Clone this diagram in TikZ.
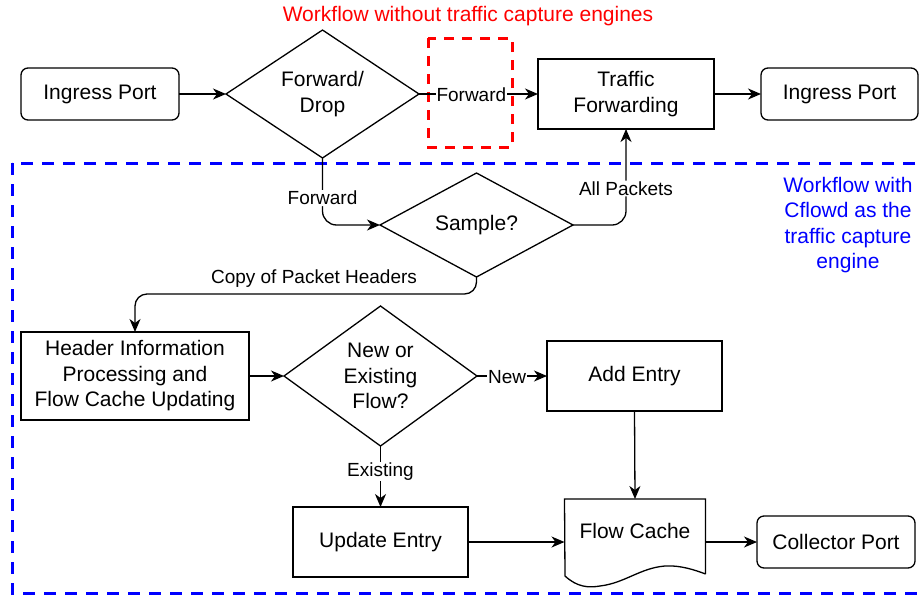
\documentclass[tikz,border=0pt]{standalone}
\usepackage{fontspec}
\setmainfont{Liberation Sans}
\usetikzlibrary{shapes.geometric,arrows.meta}

\begin{document}
\begin{tikzpicture}[x=1pt,y=-1pt,
  every node/.style={font=\fontsize{21}{25.5}\selectfont, align=center, inner sep=0pt, outer sep=0pt},
  box/.style={draw, line width=1.3pt, rectangle},
  portbox/.style={draw, line width=1.3pt, rectangle, rounded corners=7pt},
  decision/.style={draw, line width=1.3pt, diamond, inner sep=0pt},
  arr/.style={line width=1.3pt, -{Stealth[length=13pt,width=11pt,inset=4pt]}},
  edgelabel/.style={font=\fontsize{19}{22}\selectfont, fill=white, inner sep=1pt},
]
\useasboundingbox (0,0) rectangle (920,597);

% group frames
\draw[red, line width=3pt, dash pattern=on 10pt off 8pt] (428,38) rectangle (512,147);
\draw[blue, line width=3pt, dash pattern=on 12pt off 9pt] (12,163) rectangle (926,593);

% titles of the two workflows
\node[red] (titleA) at (468,16) {Workflow without traffic capture engines};
\node[blue] (titleB) at (848,225) {Workflow with\\Cflowd as the\\traffic capture\\engine};

% top row
\node[portbox, minimum width=158pt, minimum height=52pt] (ingressA) at (100,94) {Ingress Port};
\node[decision, minimum width=193pt, minimum height=104pt] (fwddrop) at (322.5,94) {Forward/\\Drop};
\node[box, minimum width=176pt, minimum height=70pt] (trafficfwd) at (626,94) {Traffic\\Forwarding};
\node[portbox, minimum width=157pt, minimum height=52pt] (ingressB) at (839.5,94) {Ingress Port};

% sampling
\node[decision, minimum width=193pt, minimum height=104pt] (sample) at (476.5,225) {Sample?};

% flow cache handling
\node[box, minimum width=228pt, minimum height=88pt] (header) at (135,376) {Header Information\\Processing and\\Flow Cache Updating};
\node[decision, minimum width=193pt, minimum height=140pt] (newflow) at (380.5,376) {New or\\Existing\\Flow?};
\node[box, minimum width=175pt, minimum height=70pt] (addentry) at (634.5,376) {Add Entry};
\node[box, minimum width=175pt, minimum height=70pt] (update) at (380.5,542) {Update Entry};
\node[portbox, minimum width=158pt, minimum height=52pt] (collector) at (836,542) {Collector Port};

% flow cache document shape
\node[minimum width=141pt, minimum height=75pt] (fc) at (635,536.5) {};
\draw[line width=1.3pt] (fc.south east) -- (fc.north east) -- (fc.north west) -- (565,576)
  .. controls (577,587) and (588,588) .. (600,586)
  .. controls (625,583) and (640,568) .. (665,566)
  .. controls (680,565) and (695,570) .. (fc.south east);
\node (fctext) at (635,531) {Flow Cache};

% connectors
\draw[arr] (ingressA.east) -- (fwddrop.west);
\draw[arr] (fwddrop.east) -- node[edgelabel, pos=0.44, yshift=-1pt] {Forward} (trafficfwd.west);
\draw[arr] (trafficfwd.east) -- (ingressB.west);
\draw[arr, rounded corners=14pt] (fwddrop.south) |- node[edgelabel, pos=0.3] {Forward} (sample.west);
\draw[arr, rounded corners=14pt] (sample.east) -| node[edgelabel, pos=0.69] {All Packets} (trafficfwd.south);
\draw[arr, rounded corners=12pt] (sample.south) -- ++(0,17) -| (header.north);
\node[font=\fontsize{19}{22}\selectfont] (copylabel) at (314,278.5) {Copy of Packet Headers};
\draw[arr] (header.east) -- (newflow.west);
\draw[arr] (newflow.east) -- node[edgelabel, pos=0.43, yshift=-1pt] {New} (addentry.west);
\draw[arr] (newflow.south) -- node[edgelabel, pos=0.42] {Existing} (update.north);
\draw[arr] (addentry.south) -- (fc.north);
\draw[arr] (update.east) -- (update.east -| fc.west);
\draw[arr] (fc.east |- collector.west) -- (collector.west);
\end{tikzpicture}
\end{document}
